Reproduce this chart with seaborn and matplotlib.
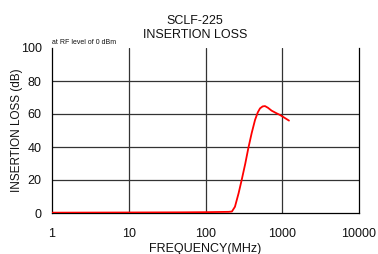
import matplotlib
matplotlib.use("Agg")
import matplotlib.pyplot as plt
import seaborn as sns
import pandas as pd
import numpy as np

freq_mhz = [1, 10, 50, 100, 200, 221, 242, 270, 296, 330, 361, 400, 442, 480, 513, 555, 596, 650, 728, 830, 935, 1080, 1224]
loss_db = [0.2, 0.3, 0.4, 0.5, 0.7, 0.9, 3.8, 12.0, 20.0, 30.0, 39.2, 48.5, 56.4, 61.0, 63.4, 64.6, 64.8, 63.8, 62.0, 60.6, 59.4, 57.6, 56.0]
x_ticks = [1, 10, 100, 1000, 10000]
x_tick_labels = ["1", "10", "100", "1000", "10000"]
y_ticks = [0, 20, 40, 60, 80, 100]

sns.set_style("white")
plt.rcParams['font.family'] = ['Liberation Sans', 'DejaVu Sans']
plt.rcParams['text.color'] = '#111111'
plt.rcParams['axes.labelcolor'] = '#111111'

df = pd.DataFrame({"freq": freq_mhz, "loss": loss_db})

fig = plt.figure(figsize=(3.78, 2.54), dpi=100)
ax = fig.add_axes([52/378, 1-213/254, (359-52)/378, (213-48)/254])

sns.lineplot(data=df, x="freq", y="loss", ax=ax, color="#ff0000", linewidth=1.3, zorder=5)
ax.set_xscale("log")
ax.set_xlim(1, 10000)
ax.set_ylim(0, 100)
ax.set_xticks(x_ticks)
ax.set_xticklabels(x_tick_labels)
ax.set_yticks(y_ticks)
ax.xaxis.set_minor_locator(matplotlib.ticker.NullLocator())

for v in [20, 40, 60, 80]:
    ax.axhline(v, color="#333333", lw=0.9, zorder=1)
for v in [10, 100, 1000]:
    ax.axvline(v, color="#333333", lw=0.9, zorder=1)

ax.spines["top"].set_visible(False)
for s in ["left", "bottom", "right"]:
    ax.spines[s].set_color("black")
    ax.spines[s].set_linewidth(0.9)

ax.tick_params(axis="both", direction="out", length=3.5, width=0.8, labelsize=9, colors="#111111")
ax.tick_params(axis="x", pad=7)
ax.tick_params(axis="y", pad=4, right=False)
ax.set_xlabel("FREQUENCY(MHz)", fontsize=9, labelpad=2.5)
ax.set_ylabel("INSERTION LOSS (dB)", fontsize=8.5)
ax.yaxis.set_label_coords(-0.094, 0.5)
ax.set_title("SCLF-225\nINSERTION LOSS", fontsize=9, x=0.466, pad=7, linespacing=1.25)
ax.text(0.0, 1.012, "at RF level of 0 dBm", transform=ax.transAxes, fontsize=5, ha="left", va="bottom")

fig.savefig("out.png", dpi=100)
